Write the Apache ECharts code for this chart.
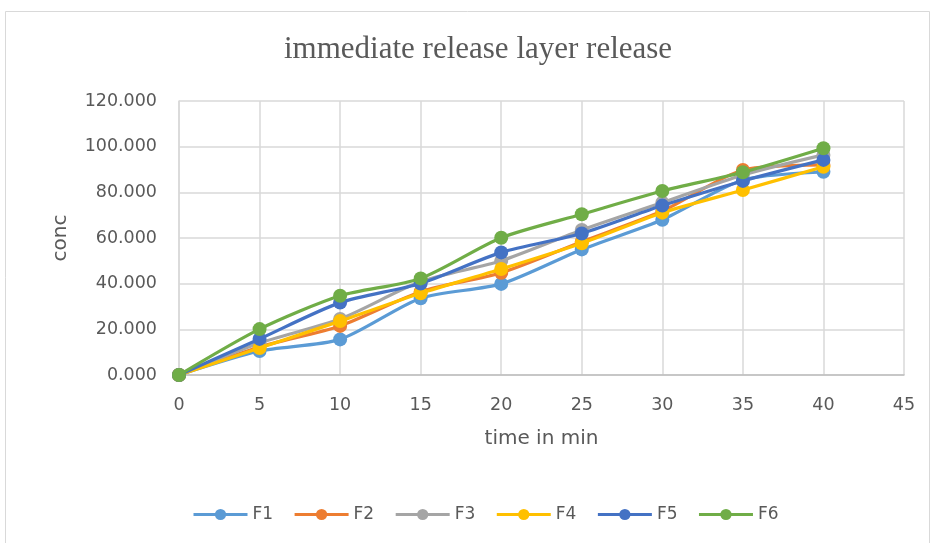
<!DOCTYPE html>
<html><head><meta charset="utf-8">
<script src="https://cdn.jsdelivr.net/npm/echarts@6/dist/echarts.min.js"></script>
<style>html,body{margin:0;padding:0;background:#fff}#c{width:932px;height:543px}</style>
</head><body><div id="c"></div>
<script>
const times = [0, 5, 10, 15, 20, 25, 30, 35, 40];
const seriesNames = ['F1', 'F2', 'F3', 'F4', 'F5', 'F6'];
const F1 = [0, 10.5, 15.6, 33.6, 39.9, 55.0, 68.0, 85.4, 89.0];
const F2 = [0, 12.3, 21.5, 36.5, 44.8, 58.4, 71.8, 89.8, 92.0];
const F3 = [0, 14.0, 24.5, 40.9, 50.0, 63.5, 75.5, 87.6, 96.4];
const F4 = [0, 11.8, 23.6, 35.8, 46.4, 57.7, 71.1, 81.0, 91.2];
const F5 = [0, 15.8, 31.7, 40.1, 53.7, 62.0, 74.2, 85.0, 94.2];
const F6 = [0, 20.1, 34.7, 42.3, 60.1, 70.4, 80.6, 88.8, 99.3];
const allValues = [F1, F2, F3, F4, F5, F6];
const colors = ['#5B9BD5', '#ED7D31', '#A5A5A5', '#FFC000', '#4472C4', '#70AD47'];

const chart = echarts.init(document.getElementById('c'));
const series = seriesNames.map((n, i) => ({
  name: n,
  type: 'line',
  data: times.map((t, j) => [t, allValues[i][j]]),
  smooth: 0.25,
  symbol: 'circle',
  symbolSize: 14,
  lineStyle: { width: 3.2, color: colors[i] },
  itemStyle: { color: colors[i] },
  z: 2 + i
}));
chart.setOption({
  animation: false,
  backgroundColor: '#fff',
  graphic: [{
    type: 'rect', shape: { x: 5.5, y: 11.5, width: 924, height: 540 },
    style: { fill: 'none', stroke: '#d9d9d9', lineWidth: 1 }, silent: true
  }],
  title: {
    text: 'immediate release layer release', left: 279, top: 29,
    textStyle: { fontFamily: 'Liberation Serif', fontSize: 31, fontWeight: 'normal', color: '#595959' }
  },
  grid: { left: 179, right: 28, top: 101, bottom: 168, containLabel: false },
  xAxis: {
    type: 'value', min: 0, max: 45, interval: 5,
    name: 'time in min', nameLocation: 'middle', nameGap: 54,
    nameTextStyle: { fontFamily: 'DejaVu Sans', fontSize: 20, color: '#595959' },
    axisLine: { show: true, lineStyle: { color: '#bfbfbf', width: 1.5 } },
    axisTick: { show: false },
    axisLabel: { fontFamily: 'DejaVu Sans', fontSize: 17.5, color: '#595959', margin: 21 },
    splitLine: { show: true, lineStyle: { color: '#d9d9d9', width: 1.5 } }
  },
  yAxis: {
    type: 'value', min: 0, max: 120, interval: 20,
    name: 'conc', nameLocation: 'middle', nameGap: 108, nameRotate: 90,
    nameTextStyle: { fontFamily: 'DejaVu Sans', fontSize: 20, color: '#595959' },
    axisLine: { show: true, lineStyle: { color: '#d9d9d9', width: 1.5 } },
    axisTick: { show: false },
    axisLabel: { fontFamily: 'DejaVu Sans', fontSize: 17.5, color: '#595959', margin: 22,
      formatter: v => v.toFixed(3) },
    splitLine: { show: true, lineStyle: { color: '#d9d9d9', width: 1.5 } }
  },
  legend: {
    data: seriesNames, top: 501, left: 187, itemGap: 20,
    itemWidth: 54, itemHeight: 14,
    lineStyle: { width: 3 },
    textStyle: { fontFamily: 'DejaVu Sans', fontSize: 17, color: '#595959' }
  },
  series: series
});
</script></body></html>
